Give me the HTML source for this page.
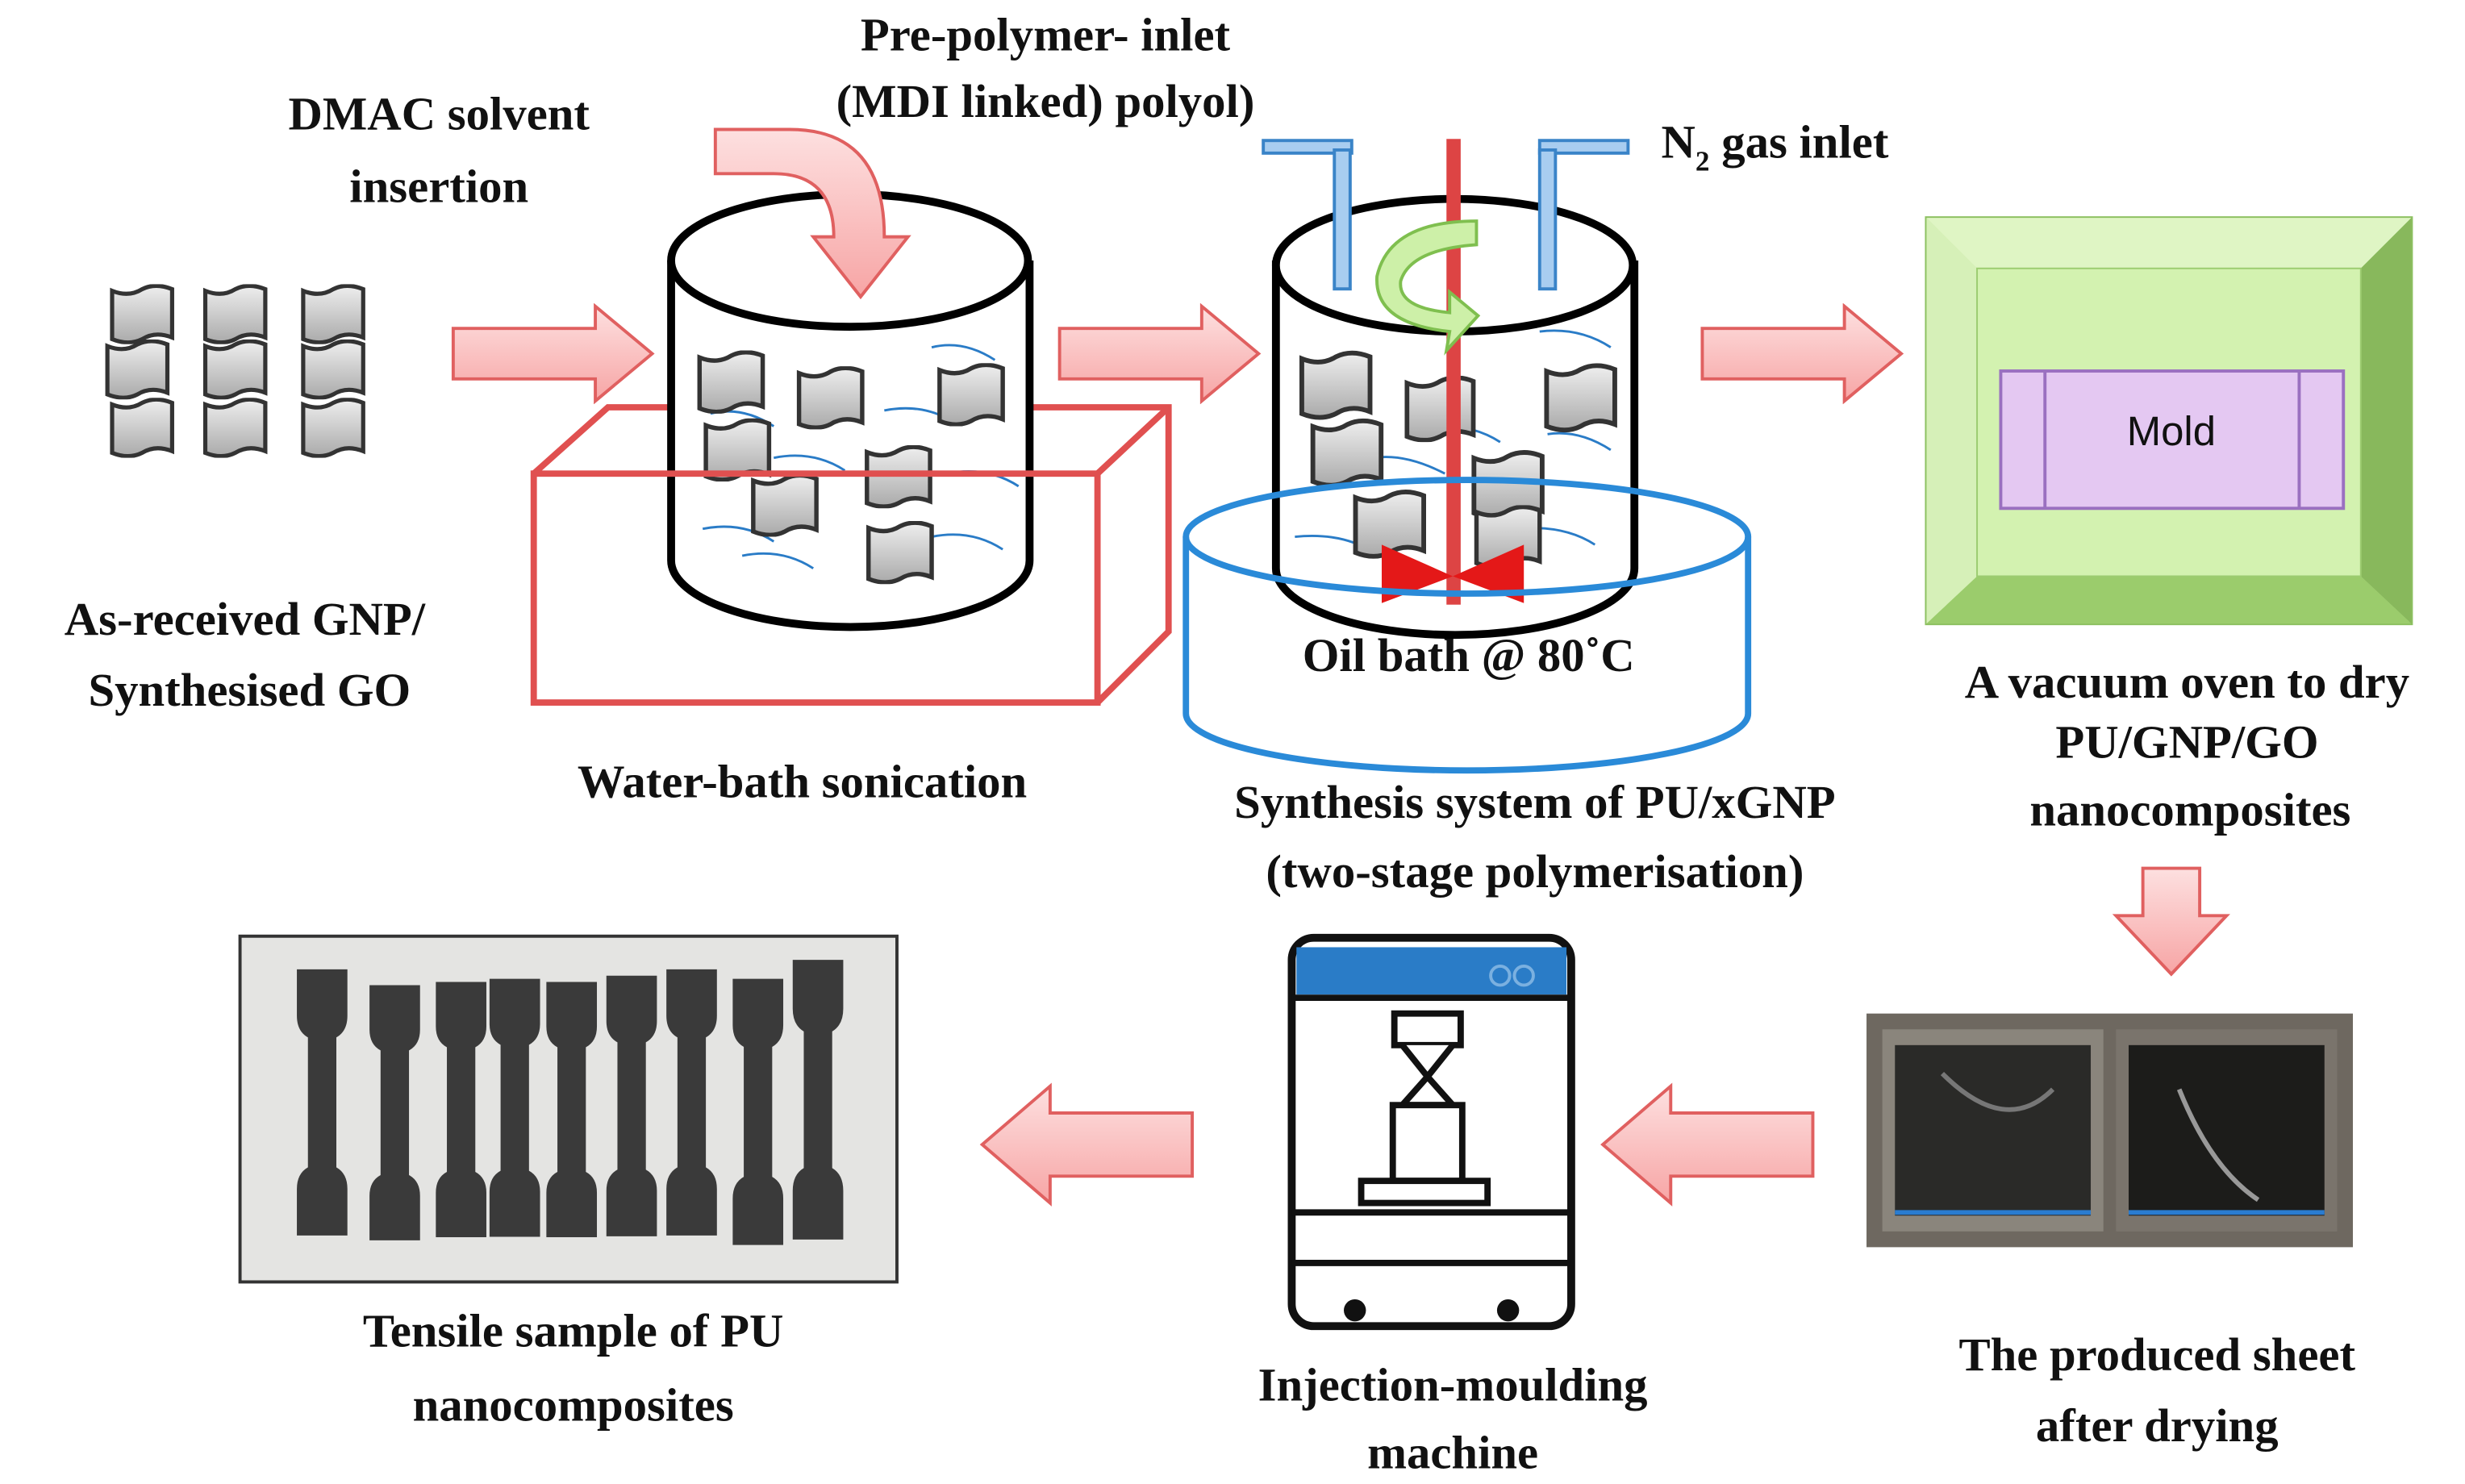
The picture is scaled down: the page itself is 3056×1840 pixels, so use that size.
<!DOCTYPE html>
<html><head><meta charset="utf-8"><style>
html,body{margin:0;padding:0;background:#fff;}
svg{display:block;}
text{font-family:"Liberation Serif",serif;font-weight:bold;fill:#111;}
</style></head><body>
<svg width="3056" height="1840" viewBox="0 0 1561 940" preserveAspectRatio="none" xmlns="http://www.w3.org/2000/svg">
<defs>
<linearGradient id="pk" x1="0" y1="0" x2="0" y2="1"><stop offset="0" stop-color="#fde0e0"/><stop offset="1" stop-color="#f7a5a5"/></linearGradient>
<linearGradient id="fl" x1="0" y1="0" x2="0" y2="1"><stop offset="0" stop-color="#eee"/><stop offset="1" stop-color="#aaa"/></linearGradient>
<symbol id="flake" viewBox="0 0 40 36"><path d="M2 4 Q12 8 20 3 Q28 -1 38 3 L38 32 Q28 28 20 33 Q12 37 2 33 Z" fill="url(#fl)" stroke="#333" stroke-width="2.5"/></symbol>
<symbol id="arR" viewBox="0 0 130 64"><path d="M2 16 H92 V2 L128 32 L92 62 V48 H2 Z" fill="url(#pk)" stroke="#e06060" stroke-width="2"/></symbol>
<path id="db" d="M0 0 h32 v30 q0 10 -7 14 v84 q7 4 7 14 v30 h-32 v-30 q0 -10 7 -14 v-84 q-7 -4 -7 -14 z" fill="#3a3a3a"/>
</defs>

<g font-size="30" text-anchor="middle">
<text x="278" y="82">DMAC solvent</text>
<text x="278" y="128">insertion</text>
<text x="662" y="32">Pre-polymer- inlet</text>
<text x="662" y="74">(MDI linked) polyol)</text>
<text x="155" y="402">As-received GNP/</text>
<text x="158" y="447">Synthesised GO</text>
<text x="508" y="505">Water-bath sonication</text>
<text x="930" y="425">Oil bath @ 80˚C</text>
<text x="972" y="518">Synthesis system of PU/xGNP</text>
<text x="972" y="562">(two-stage polymerisation)</text>
<text x="1385" y="442">A vacuum oven to dry</text>
<text x="1385" y="480">PU/GNP/GO</text>
<text x="1387" y="523">nanocomposites</text>
<text x="363" y="853">Tensile sample of PU</text>
<text x="363" y="900">nanocomposites</text>
<text x="920" y="887">Injection-moulding</text>
<text x="920" y="930">machine</text>
<text x="1366" y="868">The produced sheet</text>
<text x="1366" y="913">after drying</text>
</g>
<text x="1052" y="100" font-size="30">N<tspan font-size="18" dy="8">2</tspan><tspan dy="-8"> gas inlet</tspan></text>

<g>
<use href="#flake" x="66" y="180" width="48" height="38"/><use href="#flake" x="125" y="180" width="48" height="38"/><use href="#flake" x="187" y="180" width="48" height="38"/>
<use href="#flake" x="63" y="215" width="48" height="38"/><use href="#flake" x="125" y="215" width="48" height="38"/><use href="#flake" x="187" y="215" width="48" height="38"/>
<use href="#flake" x="66" y="252" width="48" height="38"/><use href="#flake" x="125" y="252" width="48" height="38"/><use href="#flake" x="187" y="252" width="48" height="38"/>
</g>

<use href="#arR" x="285" y="192" width="130" height="64"/>
<use href="#arR" x="668" y="192" width="132" height="64"/>
<use href="#arR" x="1075" y="192" width="132" height="64"/>

<g fill="none" stroke="#e05050" stroke-width="4">
<path d="M338 300 L385 258 H740 V400 L695 445"/>
<path d="M695 300 L740 258"/>
</g>
<g>
<path d="M425 165 V355 A113 42 0 0 0 652 355 V165" fill="#fff" stroke="#000" stroke-width="5"/>
<ellipse cx="538" cy="165" rx="113" ry="42" fill="#fff" stroke="#000" stroke-width="5"/>
<g stroke="#2a7cc7" stroke-width="1.5" fill="none">
<path d="M590 220 q20 -5 40 8"/><path d="M450 262 q20 -5 40 8"/><path d="M560 260 q25 -5 45 8"/><path d="M490 290 q25 -5 45 8"/><path d="M600 300 q25 -5 45 8"/><path d="M445 335 q25 -5 45 8"/><path d="M470 352 q25 -5 45 8"/><path d="M590 340 q25 -5 45 8"/>
</g>
<use href="#flake" x="440" y="222" width="46" height="40"/><use href="#flake" x="502" y="232" width="48" height="40"/><use href="#flake" x="592" y="230" width="46" height="40"/>
<use href="#flake" x="444" y="265" width="46" height="40"/><use href="#flake" x="545" y="282" width="48" height="40"/><use href="#flake" x="474" y="300" width="46" height="40"/><use href="#flake" x="547" y="330" width="46" height="40"/>
</g>
<rect x="338" y="300" width="357" height="145" fill="none" stroke="#e05050" stroke-width="4"/>
<path d="M453 82 H500 Q560 82 560 150 H575 L545 188 L515 150 H528 Q528 110 490 110 H453 Z" fill="url(#pk)" stroke="#e06060" stroke-width="2"/>

<g>
<path d="M808 165 V360 A113 42 0 0 0 1035 360 V165" fill="#fff" stroke="#000" stroke-width="5"/>
<ellipse cx="921" cy="168" rx="113" ry="42" fill="#fff" stroke="#000" stroke-width="5"/>
<g stroke="#2a7cc7" stroke-width="1.5" fill="none">
<path d="M975 210 q25 -3 45 10"/><path d="M900 270 q30 -3 50 10"/><path d="M980 275 q20 -3 40 10"/><path d="M870 290 q20 -3 45 10"/><path d="M820 340 q30 -3 50 10"/><path d="M960 335 q30 -3 50 10"/>
</g>
<use href="#flake" x="822" y="222" width="48" height="44"/><use href="#flake" x="888" y="238" width="48" height="42"/><use href="#flake" x="977" y="230" width="48" height="44"/>
<use href="#flake" x="829" y="265" width="48" height="44"/><use href="#flake" x="931" y="285" width="48" height="44"/><use href="#flake" x="856" y="310" width="48" height="44"/><use href="#flake" x="931" y="320" width="48" height="40"/>
</g>
<rect x="916" y="88" width="9" height="295" fill="#dd4444"/>
<path d="M875 345 L920 365 L965 345 V382 L920 365 L875 382 Z" fill="#e41818"/>
<path d="M935 140 Q880 140 872 175 Q870 205 918 210 L916 222 L936 200 L918 185 L918 198 Q885 195 887 178 Q893 158 935 155 Z" fill="#cdf0a8" stroke="#7fbf4f" stroke-width="2"/>
<g fill="#a8cdf0" stroke="#3a84c8" stroke-width="2">
<rect x="800" y="89" width="56" height="8"/><rect x="845" y="95" width="10" height="88"/>
<rect x="975" y="89" width="56" height="8"/><rect x="975" y="95" width="10" height="88"/>
</g>
<g fill="none" stroke="#2a8ad8" stroke-width="4">
<ellipse cx="929" cy="340" rx="178" ry="36"/>
<path d="M751 340 V452 A178 36 0 0 0 1107 452 V340"/>
</g>

<rect x="1220" y="138" width="307" height="257" fill="#c8eaa0" stroke="#8cc060" stroke-width="2"/>
<polygon points="1220,138 1527,138 1495,170 1252,170" fill="#dff5c4"/>
<polygon points="1220,395 1527,395 1495,365 1252,365" fill="#9bcc6c"/>
<polygon points="1527,138 1527,395 1495,365 1495,170" fill="#88b85c"/>
<polygon points="1220,138 1220,395 1252,365 1252,170" fill="#d6f0b8"/>
<rect x="1252" y="170" width="243" height="195" fill="#d3f2b0" stroke="#9ccc70" stroke-width="1"/>
<rect x="1267" y="235" width="217" height="87" fill="#e4c8f2" stroke="#9a70c0" stroke-width="2"/>
<line x1="1295" y1="235" x2="1295" y2="322" stroke="#9a70c0" stroke-width="2"/>
<line x1="1456" y1="235" x2="1456" y2="322" stroke="#9a70c0" stroke-width="2"/>
<text x="1375" y="282" font-size="26" text-anchor="middle" style="font-family:'Liberation Sans',sans-serif;font-weight:normal">Mold</text>

<path d="M1357 550 H1393 V580 H1410 L1375 617 L1340 580 H1357 Z" fill="url(#pk)" stroke="#e06060" stroke-width="2"/>
<path d="M1148 705 H1058 V688 L1015 725 L1058 762 V745 H1148 Z" fill="url(#pk)" stroke="#e06060" stroke-width="2"/>
<path d="M755 705 H665 V688 L622 725 L665 762 V745 H755 Z" fill="url(#pk)" stroke="#e06060" stroke-width="2"/>

<rect x="1182" y="642" width="308" height="148" fill="#6e6860"/>
<rect x="1192" y="652" width="140" height="128" fill="#8a857c"/><rect x="1340" y="652" width="140" height="128" fill="#7a746c"/>
<rect x="1200" y="662" width="124" height="108" fill="#2a2a28"/><rect x="1348" y="662" width="124" height="108" fill="#1c1c1a"/>
<path d="M1230 680 Q1270 720 1300 690" stroke="#777" stroke-width="3" fill="none"/>
<path d="M1380 690 Q1400 740 1430 760" stroke="#999" stroke-width="3" fill="none"/>
<line x1="1200" y1="768" x2="1324" y2="768" stroke="#2a7cd0" stroke-width="3"/>
<line x1="1348" y1="768" x2="1472" y2="768" stroke="#2a7cd0" stroke-width="3"/>

<rect x="818" y="594" width="177" height="246" rx="14" fill="#fff" stroke="#111" stroke-width="5"/>
<rect x="821" y="600" width="171" height="30" fill="#2a7cc7"/>
<line x1="818" y1="632" x2="995" y2="632" stroke="#111" stroke-width="4"/>
<circle cx="950" cy="618" r="6" fill="none" stroke="#7ab0e0" stroke-width="2"/><circle cx="965" cy="618" r="6" fill="none" stroke="#7ab0e0" stroke-width="2"/>
<rect x="883" y="642" width="42" height="20" fill="#fff" stroke="#111" stroke-width="4"/>
<path d="M888 662 L904 682 L888 700 H920 L904 682 L920 662" fill="#fff" stroke="#111" stroke-width="4"/>
<rect x="882" y="700" width="44" height="48" fill="#fff" stroke="#111" stroke-width="4"/>
<rect x="862" y="748" width="80" height="14" fill="#fff" stroke="#111" stroke-width="4"/>
<line x1="818" y1="768" x2="995" y2="768" stroke="#111" stroke-width="4"/>
<line x1="818" y1="800" x2="995" y2="800" stroke="#111" stroke-width="4"/>
<circle cx="858" cy="830" r="7" fill="#111"/><circle cx="955" cy="830" r="7" fill="#111"/>

<rect x="152" y="593" width="416" height="219" fill="#e4e4e2" stroke="#333" stroke-width="2"/>
<use href="#db" transform="translate(188,614) scale(1,0.98)"/>
<use href="#db" transform="translate(234,624) scale(1,0.94)"/>
<use href="#db" transform="translate(276,622) scale(1,0.94)"/>
<use href="#db" transform="translate(310,620) scale(1,0.95)"/>
<use href="#db" transform="translate(346,622) scale(1,0.94)"/>
<use href="#db" transform="translate(384,618) scale(1,0.96)"/>
<use href="#db" transform="translate(422,614) scale(1,0.98)"/>
<use href="#db" transform="translate(464,620) scale(1,0.98)"/>
<use href="#db" transform="translate(502,608) scale(1,1.03)"/>
</svg>
</body></html>
